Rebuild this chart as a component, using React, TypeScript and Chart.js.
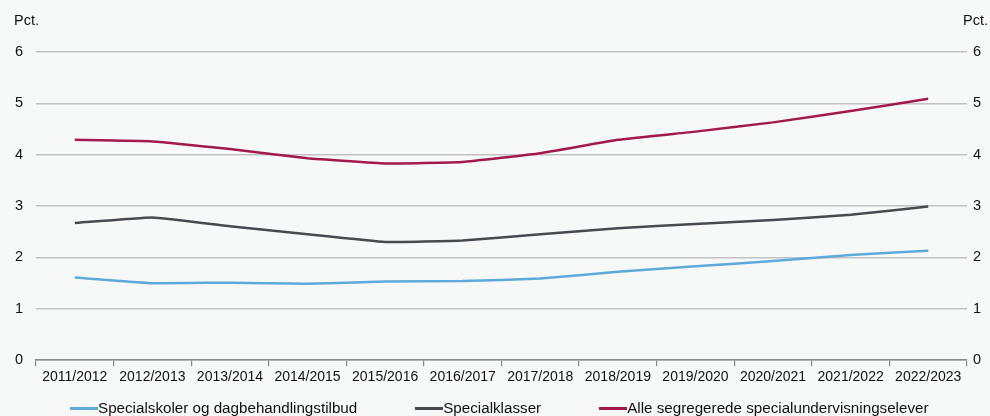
import React, { useEffect, useRef } from "react";
import { Chart, registerables } from "chart.js";

Chart.register(...registerables);

const categories = [
  "2011/2012", "2012/2013", "2013/2014", "2014/2015", "2015/2016", "2016/2017",
  "2017/2018", "2018/2019", "2019/2020", "2020/2021", "2021/2022", "2022/2023",
];
const specialskoler = [1.61, 1.5, 1.51, 1.49, 1.53, 1.54, 1.59, 1.72, 1.83, 1.93, 2.05, 2.13];
const specialklasser = [2.67, 2.78, 2.61, 2.45, 2.3, 2.33, 2.45, 2.57, 2.65, 2.73, 2.83, 2.99];
const alleSegregerede = [4.29, 4.26, 4.11, 3.93, 3.83, 3.86, 4.03, 4.29, 4.45, 4.63, 4.85, 5.09];
const seriesNames = [
  "Specialskoler og dagbehandlingstilbud",
  "Specialklasser",
  "Alle segregerede specialundervisningselever",
];
const seriesColors = ["#5ea9da", "#48484e", "#a11a4b"];
const yMin = 0;
const yMax = 6;
const unitLabel = "Pct.";

const FONT = "Arial, 'Liberation Sans', Helvetica, sans-serif";
const BG = "#f7f9f9";

const unitPlugin = {
  id: "unitLabels",
  afterDraw(chart: any) {
    const ctx = chart.ctx;
    ctx.save();
    ctx.fillStyle = "#111";
    ctx.font = `14.5px ${FONT}`;
    ctx.textBaseline = "middle";
    ctx.textAlign = "left";
    ctx.fillText(unitLabel, 14, 21);
    ctx.textAlign = "right";
    ctx.fillText(unitLabel, 988, 21);
    ctx.restore();
  },
};

export default function App() {
  const ref = useRef<HTMLCanvasElement | null>(null);

  useEffect(() => {
    document.body.style.margin = "0";
    document.body.style.background = BG;
    const values = [specialskoler, specialklasser, alleSegregerede];
    const chart = new Chart(ref.current as HTMLCanvasElement, {
      type: "line",
      data: {
        labels: categories,
        datasets: values.map((v, i) => ({
          label: seriesNames[i],
          data: v,
          borderColor: seriesColors[i],
          backgroundColor: seriesColors[i],
          borderWidth: 2.5,
          pointRadius: 0,
          tension: 0.1,
          fill: false,
        })),
      },
      options: {
        animation: false,
        responsive: false,
        maintainAspectRatio: false,
        layout: { padding: { top: 52, bottom: 27, left: 0, right: 0 } },
        plugins: { legend: { display: false }, tooltip: { enabled: false } },
        scales: {
          x: {
            type: "category",
            offset: true,
            grid: {
              offset: true,
              drawOnChartArea: false,
              drawTicks: true,
              tickLength: 6,
              color: "#8a8a8a",
              lineWidth: 1.2,
            },
            border: { color: "#8a8a8a", width: 1.5 },
            ticks: {
              color: "#111",
              font: { family: FONT, size: 14 },
              maxRotation: 0,
              autoSkip: false,
              padding: 3,
            },
          },
          y: {
            position: "left",
            min: yMin,
            max: yMax,
            ticks: { stepSize: 1, color: "#111", font: { family: FONT, size: 14.5 }, padding: 13 },
            grid: { color: "#c2c2c2", lineWidth: 1.5, drawTicks: false },
            border: { display: false },
            afterFit(s: any) {
              s.width = 36;
            },
          },
          y2: {
            position: "right",
            min: yMin,
            max: yMax,
            ticks: { stepSize: 1, color: "#111", font: { family: FONT, size: 14.5 }, padding: 6 },
            grid: { display: false, drawTicks: false },
            border: { display: false },
            afterFit(s: any) {
              s.width = 23;
            },
          },
        },
      } as any,
      plugins: [unitPlugin],
    });
    return () => chart.destroy();
  }, []);

  return (
    <div style={{ position: "relative", width: 990, height: 416, background: BG, fontFamily: FONT }}>
      <canvas ref={ref} width={990} height={416} style={{ display: "block" }} />
      <div
        style={{
          position: "absolute",
          top: 399,
          left: 70,
          display: "flex",
          alignItems: "center",
          fontSize: 15.2,
          color: "#111",
          lineHeight: "18px",
          whiteSpace: "nowrap",
        }}
      >
        {seriesNames.map((n, i) => (
          <div key={n} style={{ display: "flex", alignItems: "center", marginRight: 58 }}>
            <span style={{ display: "inline-block", width: 28, height: 3, background: seriesColors[i] }} />
            <span>{n}</span>
          </div>
        ))}
      </div>
    </div>
  );
}
